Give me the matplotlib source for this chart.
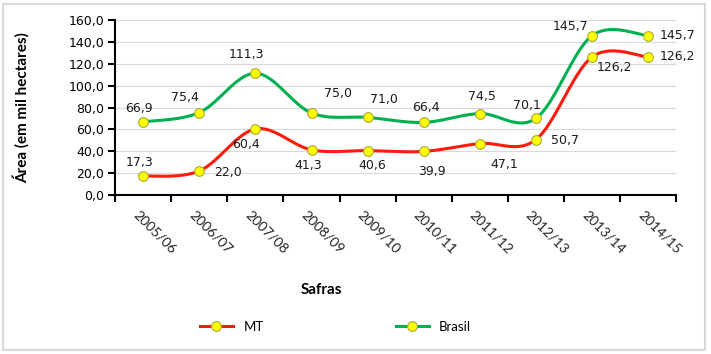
import matplotlib
matplotlib.use("Agg")
import matplotlib.pyplot as plt
from matplotlib.patches import Rectangle
from matplotlib.lines import Line2D
import matplotlib.transforms as mtransforms
import numpy as np

safras = ["2005/06", "2006/07", "2007/08", "2008/09", "2009/10",
          "2010/11", "2011/12", "2012/13", "2013/14", "2014/15"]
mt = [17.3, 22.0, 60.4, 41.3, 40.6, 39.9, 47.1, 50.7, 126.2, 126.2]
brasil = [66.9, 75.4, 111.3, 75.0, 71.0, 66.4, 74.5, 70.1, 145.7, 145.7]
mt_labels = ["17,3", "22,0", "60,4", "41,3", "40,6", "39,9", "47,1", "50,7", "126,2", "126,2"]
brasil_labels = ["66,9", "75,4", "111,3", "75,0", "71,0", "66,4", "74,5", "70,1", "145,7", "145,7"]

# label offsets in pixels (dx, dy)
mt_off = [(-4, 14), (29, -2), (-9, -16), (-3, -16), (5, -15), (8, -20),
          (24, -21), (29, -1), (22, -11), (29, 0)]
br_off = [(-4, 13), (-14, 15), (-9, 19), (26, 19), (16, 18), (2, 15),
          (2, 17), (-9, 13), (-21, 9), (29, 0)]


def smooth(x, y, n=30):
    # excel-like smoothed line: bezier segments with catmull-rom control points
    x = np.asarray(x, float)
    y = np.asarray(y, float)
    p = np.column_stack([x, y])
    p = np.vstack([p[0], p, p[-1]])
    out = []
    t = np.linspace(0, 1, n)[:, None]
    for i in range(1, len(p) - 2):
        p0, p1, p2, p3 = p[i - 1], p[i], p[i + 1], p[i + 2]
        c1 = p1 + (p2 - p0) / 6
        c2 = p2 - (p3 - p1) / 6
        seg = ((1 - t) ** 3) * p1 + 3 * ((1 - t) ** 2) * t * c1 \
            + 3 * (1 - t) * t ** 2 * c2 + t ** 3 * p2
        out.append(seg)
    out = np.vstack(out)
    return out[:, 0], out[:, 1]


red = "#ff1a0a"
green = "#00b050"
mk_face = "#ffff00"
mk_edge = "#a8a83a"

fig = plt.figure(figsize=(7.11, 3.54), dpi=100)
ax = fig.add_axes([0.162, 0.449, 0.789, 0.4945])

xs = np.arange(len(safras))
for vals, col in [(brasil, green), (mt, red)]:
    sx, sy = smooth(xs, vals)
    ax.plot(sx, sy, color=col, lw=2.2, zorder=3, solid_capstyle="round")
    ax.plot(xs, vals, ls="none", marker="o", ms=7, mfc=mk_face,
            mec=mk_edge, mew=0.8, zorder=4)

for vals, labs, offs in [(mt, mt_labels, mt_off), (brasil, brasil_labels, br_off)]:
    for i, (v, lab) in enumerate(zip(vals, labs)):
        ax.annotate(lab, (xs[i], v), xytext=offs[i], textcoords="offset pixels",
                    ha="center", va="center", fontsize=9, color="#1a1a1a",
                    zorder=5)

ax.set_xlim(-0.5, len(safras) - 0.5)
ax.set_ylim(0, 160)
ax.set_yticks(np.arange(0, 161, 20))
ax.set_yticklabels([f"{v:.1f}".replace(".", ",") for v in np.arange(0, 161, 20)],
                   fontsize=9)
ax.yaxis.grid(True, color="#d9d9d9", lw=0.8)
ax.set_axisbelow(True)

ax.set_xticks(xs)
ax.set_xticks(np.arange(-0.5, len(safras), 1), minor=True)
ax.tick_params(axis="x", which="major", length=0, pad=13)
ax.tick_params(axis="x", which="minor", length=5, width=1.5, direction="out")
ax.tick_params(axis="y", length=5, width=1.5, direction="out", pad=3)
ax.set_xticklabels(safras, rotation=-45, ha="left", rotation_mode="anchor",
                   fontsize=10, family="Lato", color="#222222")
shift = mtransforms.ScaledTranslation(-8 / 100, 0, fig.dpi_scale_trans)
for lab in ax.get_xticklabels():
    lab.set_verticalalignment("center")
    lab.set_transform(lab.get_transform() + shift)

for s in ["top", "right"]:
    ax.spines[s].set_visible(False)
for s in ["left", "bottom"]:
    ax.spines[s].set_linewidth(1.5)

fig.text(0.452, 0.181, "Safras", ha="center", va="center", fontsize=11,
         fontweight="bold", family="Lato")
fig.text(0.03, 0.695, "Área (em mil hectares)", ha="center", va="center",
         rotation=90, fontsize=11, fontweight="bold", family="Lato")

handles = [Line2D([], [], color=red, lw=2.2, marker="o", ms=7, mfc=mk_face,
                  mec=mk_edge, mew=0.8),
           Line2D([], [], color=green, lw=2.2, marker="o", ms=7, mfc=mk_face,
                  mec=mk_edge, mew=0.8)]
fig.legend(handles, ["MT", "Brasil"], loc="center", bbox_to_anchor=(0.472, 0.076),
           ncol=2, frameon=False, handlelength=2.5, columnspacing=10.0,
           prop={"family": "Lato", "size": 9.5})

fig.patches.append(Rectangle((0.004, 0.01), 0.988, 0.98, transform=fig.transFigure,
                             fill=False, edgecolor="#d9d9d9", lw=1.5))

fig.savefig("out.png", dpi=100)
